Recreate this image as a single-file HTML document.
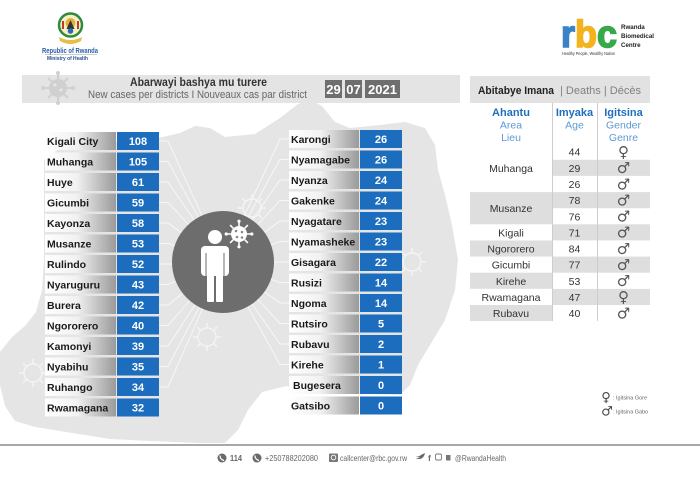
<!DOCTYPE html>
<html><head><meta charset="utf-8">
<style>
html,body{margin:0;padding:0;background:#fff;}
svg{display:block;}
text{font-family:"Liberation Sans","DejaVu Sans",sans-serif;}
text.sym{font-family:"DejaVu Sans",sans-serif;}
.nm{font-size:10.5px;font-weight:bold;fill:#1a1a1a;}
.nb{font-size:11px;font-weight:bold;fill:#ffffff;text-anchor:middle;}
.tb{font-size:10.5px;fill:#333;text-anchor:middle;}
text.gs{font-size:15px;fill:#555;text-anchor:middle;}
</style></head><body>
<svg width="700" height="478" viewBox="0 0 700 478" xmlns="http://www.w3.org/2000/svg">
<defs>
<linearGradient id="gl" x1="0" y1="0" x2="1" y2="0">
<stop offset="0" stop-color="#ffffff"/>
<stop offset="0.45" stop-color="#f1f1f1"/>
<stop offset="1" stop-color="#9a9a9a"/>
</linearGradient>
<g id="vir" fill="none" stroke="#f4f4f4" stroke-width="1.4">
<circle r="9"/>
<path d="M0-9V-14M0 9V14M-9 0H-14M9 0H14M6.4-6.4L10-10M-6.4 6.4L-10 10M6.4 6.4L10 10M-6.4-6.4L-10-10"/>
</g>
</defs>

<!-- map silhouette -->
<path d="M150,140 L180,133 L195,126 L210,128 L225,137 L255,134 L280,118 L298,104 L310,100 L322,106 L335,122 L350,128 L380,125 L405,122 L425,128 L435,145 L438,170 L445,195 L452,225 L458,260 L455,290 L445,320 L430,345 L418,365 L410,385 L400,395 L300,392 L287,386 L262,392 L248,410 L238,430 L225,443 L200,443 L150,441 L110,439 L85,435 L60,431 L35,427 L15,421 L5,406 L0,385 L0,352 L12,337 L25,326 L36,312 L42,290 L44,260 L44,160 L60,148 L100,142 Z" fill="#e5e5e5"/>

<!-- decorative viruses -->
<use href="#vir" x="252" y="208"/>
<use href="#vir" x="207" y="337"/>
<use href="#vir" x="33" y="373"/>
<use href="#vir" x="412" y="262"/>

<!-- radiating lines -->
<g fill="none" stroke="#f8f8f8" stroke-width="0.9">
<path d="M159,141H168L201.9,215.6"/>
<path d="M159,161.5H168L198.5,217.3"/>
<path d="M159,182H168L194.1,220"/>
<path d="M159,202.5H168L188.4,224.5"/>
<path d="M159,223H168L181.4,232.5"/>
<path d="M159,243.5H168L174.7,245.7"/>
<path d="M159,264H172"/>
<path d="M159,284.5H168L175.8,281.3"/>
<path d="M159,305H168L182.8,293.4"/>
<path d="M159,325.5H168L189.6,300.5"/>
<path d="M159,346H168L195.1,304.7"/>
<path d="M159,366.5H168L199.3,307.1"/>
<path d="M159,387H168L202.5,308.7"/>
<path d="M289,139H280L244.4,215.7"/>
<path d="M289,159.5H280L247.8,217.4"/>
<path d="M289,180H280L252.1,220.1"/>
<path d="M289,200.5H280L257.7,224.6"/>
<path d="M289,221H280L264.4,232.2"/>
<path d="M289,241.5H280L271,244.7"/>
<path d="M289,262H274"/>
<path d="M289,282.5H280L271,279.3"/>
<path d="M289,303H280L264.4,291.8"/>
<path d="M289,323.5H280L257.7,299.4"/>
<path d="M289,344H280L252.1,303.9"/>
<path d="M289,364.5H280L247.8,306.6"/>
</g>

<!-- left logo -->
<circle cx="70.5" cy="25" r="11.5" fill="#f6efc8" stroke="#2f8a3c" stroke-width="2.5"/>
<circle cx="70.5" cy="23" r="5" fill="#e2b23a"/>
<path d="M66.5,29 L70.5,20 L74.5,29 Z" fill="#333"/>
<circle cx="70.5" cy="31" r="2.8" fill="#2a6bb5"/>
<rect x="62" y="21" width="2" height="8" fill="#c0392b"/>
<rect x="77" y="21" width="2" height="8" fill="#c0392b"/>
<path d="M59,37 Q70.5,43 82,37 L81,41 Q70.5,47 60,41 Z" fill="#e3bf4a"/>
<text x="42" y="53" font-size="7.5" font-weight="bold" fill="#2a5caa" textLength="56" lengthAdjust="spacingAndGlyphs">Republic of Rwanda</text>
<line x1="45" y1="54.7" x2="97" y2="54.7" stroke="#999" stroke-width="0.5"/>
<text x="47" y="59.8" font-size="5.5" font-weight="bold" fill="#2a4f8f" textLength="41" lengthAdjust="spacingAndGlyphs">Ministry of Health</text>

<!-- rbc logo -->
<text x="561" y="47" font-size="38" font-weight="bold" stroke-width="1.6" textLength="56" lengthAdjust="spacingAndGlyphs"><tspan fill="#3a83c5" stroke="#3a83c5">r</tspan><tspan fill="#f4b31c" stroke="#f4b31c">b</tspan><tspan fill="#36a94b" stroke="#36a94b">c</tspan></text>
<text x="621" y="29" font-size="6.2" font-weight="bold" fill="#222">Rwanda</text>
<text x="621" y="38" font-size="6.2" font-weight="bold" fill="#222">Biomedical</text>
<text x="621" y="47" font-size="6.2" font-weight="bold" fill="#222">Centre</text>
<text x="562" y="55" font-size="4.5" fill="#333" textLength="53" lengthAdjust="spacingAndGlyphs">Healthy People, Wealthy Nation</text>

<!-- left header bar -->
<rect x="22" y="75" width="438" height="28" fill="#e4e4e4"/>
<g transform="translate(58,88)" fill="#d0d0d0" stroke="#d0d0d0">
<circle r="9" stroke="none"/>
<path d="M0-9V-14M0 9V14M-9 0H-14M9 0H14M6.4-6.4L10-10M-6.4 6.4L-10 10M6.4 6.4L10 10M-6.4-6.4L-10-10" stroke-width="2"/>
<circle cx="0" cy="-15" r="2" stroke="none"/><circle cx="0" cy="15" r="2" stroke="none"/>
<circle cx="-15" cy="0" r="2" stroke="none"/><circle cx="15" cy="0" r="2" stroke="none"/>
<circle cx="-3" cy="-3" r="1.5" fill="#e8e8e8" stroke="none"/><circle cx="3" cy="2" r="1.5" fill="#e8e8e8" stroke="none"/>
</g>
<text x="130" y="86" font-size="11.5" font-weight="bold" fill="#333" textLength="137" lengthAdjust="spacingAndGlyphs">Abarwayi bashya mu turere</text>
<text x="88" y="98" font-size="11" fill="#666" textLength="219" lengthAdjust="spacingAndGlyphs">New cases per districts I Nouveaux cas par district</text>
<rect x="325" y="80" width="17" height="18" fill="#6e6e6e"/>
<rect x="345" y="80" width="17" height="18" fill="#6e6e6e"/>
<rect x="365" y="80" width="35" height="18" fill="#6e6e6e"/>
<text x="333.5" y="94" font-size="13" font-weight="bold" fill="#fff" text-anchor="middle">29</text>
<text x="353.5" y="94" font-size="13" font-weight="bold" fill="#fff" text-anchor="middle">07</text>
<text x="382.5" y="94" font-size="13" font-weight="bold" fill="#fff" text-anchor="middle">2021</text>

<!-- center circle -->
<circle cx="223" cy="262" r="51" fill="#6d6d6d"/>
<circle cx="215" cy="237" r="7" fill="#fff"/>
<rect x="201" y="246" width="28" height="30" rx="4" fill="#fff"/>
<rect x="207" y="272" width="7" height="30" rx="1" fill="#fff"/>
<rect x="216" y="272" width="7" height="30" rx="1" fill="#fff"/>
<line x1="206" y1="253" x2="206" y2="276" stroke="#6d6d6d" stroke-width="1"/>
<line x1="224" y1="253" x2="224" y2="276" stroke="#6d6d6d" stroke-width="1"/>
<g transform="translate(239,234)">
<path d="M0-8V-12.5M0 8V12.5M-8 0H-12.5M8 0H12.5M5.7-5.7L8.9-8.9M-5.7 5.7L-8.9 8.9M5.7 5.7L8.9 8.9M-5.7-5.7L-8.9-8.9" stroke="#fff" stroke-width="1.6"/>
<circle r="8" fill="#fff"/>
<circle cx="-3" cy="-3" r="1.3" fill="#8a8a8a"/><circle cx="3" cy="-2" r="1.3" fill="#8a8a8a"/>
<circle cx="-2" cy="3" r="1.3" fill="#8a8a8a"/><circle cx="3" cy="3.5" r="1.3" fill="#8a8a8a"/>
<circle cx="0" cy="12.8" r="1.6" fill="#fff"/><circle cx="0" cy="-12.8" r="1.6" fill="#fff"/>
<circle cx="12.8" cy="0" r="1.6" fill="#fff"/><circle cx="-12.8" cy="0" r="1.6" fill="#fff"/>
</g>

<!-- left list -->
<g>
<rect x="45" y="132" width="71" height="18" fill="url(#gl)"/><rect x="117" y="132" width="42" height="18" fill="#1c6dbe"/><text class="nm" x="47" y="145">Kigali City</text><text class="nb" x="138" y="145">108</text>
<rect x="45" y="152.5" width="71" height="18" fill="url(#gl)"/><rect x="117" y="152.5" width="42" height="18" fill="#1c6dbe"/><text class="nm" x="47" y="165.5">Muhanga</text><text class="nb" x="138" y="165.5">105</text>
<rect x="45" y="173" width="71" height="18" fill="url(#gl)"/><rect x="117" y="173" width="42" height="18" fill="#1c6dbe"/><text class="nm" x="47" y="186">Huye</text><text class="nb" x="138" y="186">61</text>
<rect x="45" y="193.5" width="71" height="18" fill="url(#gl)"/><rect x="117" y="193.5" width="42" height="18" fill="#1c6dbe"/><text class="nm" x="47" y="206.5">Gicumbi</text><text class="nb" x="138" y="206.5">59</text>
<rect x="45" y="214" width="71" height="18" fill="url(#gl)"/><rect x="117" y="214" width="42" height="18" fill="#1c6dbe"/><text class="nm" x="47" y="227">Kayonza</text><text class="nb" x="138" y="227">58</text>
<rect x="45" y="234.5" width="71" height="18" fill="url(#gl)"/><rect x="117" y="234.5" width="42" height="18" fill="#1c6dbe"/><text class="nm" x="47" y="247.5">Musanze</text><text class="nb" x="138" y="247.5">53</text>
<rect x="45" y="255" width="71" height="18" fill="url(#gl)"/><rect x="117" y="255" width="42" height="18" fill="#1c6dbe"/><text class="nm" x="47" y="268">Rulindo</text><text class="nb" x="138" y="268">52</text>
<rect x="45" y="275.5" width="71" height="18" fill="url(#gl)"/><rect x="117" y="275.5" width="42" height="18" fill="#1c6dbe"/><text class="nm" x="47" y="288.5">Nyaruguru</text><text class="nb" x="138" y="288.5">43</text>
<rect x="45" y="296" width="71" height="18" fill="url(#gl)"/><rect x="117" y="296" width="42" height="18" fill="#1c6dbe"/><text class="nm" x="47" y="309">Burera</text><text class="nb" x="138" y="309">42</text>
<rect x="45" y="316.5" width="71" height="18" fill="url(#gl)"/><rect x="117" y="316.5" width="42" height="18" fill="#1c6dbe"/><text class="nm" x="47" y="329.5">Ngororero</text><text class="nb" x="138" y="329.5">40</text>
<rect x="45" y="337" width="71" height="18" fill="url(#gl)"/><rect x="117" y="337" width="42" height="18" fill="#1c6dbe"/><text class="nm" x="47" y="350">Kamonyi</text><text class="nb" x="138" y="350">39</text>
<rect x="45" y="357.5" width="71" height="18" fill="url(#gl)"/><rect x="117" y="357.5" width="42" height="18" fill="#1c6dbe"/><text class="nm" x="47" y="370.5">Nyabihu</text><text class="nb" x="138" y="370.5">35</text>
<rect x="45" y="378" width="71" height="18" fill="url(#gl)"/><rect x="117" y="378" width="42" height="18" fill="#1c6dbe"/><text class="nm" x="47" y="391">Ruhango</text><text class="nb" x="138" y="391">34</text>
<rect x="45" y="398.5" width="71" height="18" fill="url(#gl)"/><rect x="117" y="398.5" width="42" height="18" fill="#1c6dbe"/><text class="nm" x="47" y="411.5">Rwamagana</text><text class="nb" x="138" y="411.5">32</text>
</g>

<!-- middle list -->
<g>
<rect x="289" y="130" width="70" height="18" fill="url(#gl)"/><rect x="360" y="130" width="42" height="18" fill="#1c6dbe"/><text class="nm" x="291" y="143">Karongi</text><text class="nb" x="381" y="143">26</text>
<rect x="289" y="150.5" width="70" height="18" fill="url(#gl)"/><rect x="360" y="150.5" width="42" height="18" fill="#1c6dbe"/><text class="nm" x="291" y="163.5">Nyamagabe</text><text class="nb" x="381" y="163.5">26</text>
<rect x="289" y="171" width="70" height="18" fill="url(#gl)"/><rect x="360" y="171" width="42" height="18" fill="#1c6dbe"/><text class="nm" x="291" y="184">Nyanza</text><text class="nb" x="381" y="184">24</text>
<rect x="289" y="191.5" width="70" height="18" fill="url(#gl)"/><rect x="360" y="191.5" width="42" height="18" fill="#1c6dbe"/><text class="nm" x="291" y="204.5">Gakenke</text><text class="nb" x="381" y="204.5">24</text>
<rect x="289" y="212" width="70" height="18" fill="url(#gl)"/><rect x="360" y="212" width="42" height="18" fill="#1c6dbe"/><text class="nm" x="291" y="225">Nyagatare</text><text class="nb" x="381" y="225">23</text>
<rect x="289" y="232.5" width="70" height="18" fill="url(#gl)"/><rect x="360" y="232.5" width="42" height="18" fill="#1c6dbe"/><text class="nm" x="291" y="245.5">Nyamasheke</text><text class="nb" x="381" y="245.5">23</text>
<rect x="289" y="253" width="70" height="18" fill="url(#gl)"/><rect x="360" y="253" width="42" height="18" fill="#1c6dbe"/><text class="nm" x="291" y="266">Gisagara</text><text class="nb" x="381" y="266">22</text>
<rect x="289" y="273.5" width="70" height="18" fill="url(#gl)"/><rect x="360" y="273.5" width="42" height="18" fill="#1c6dbe"/><text class="nm" x="291" y="286.5">Rusizi</text><text class="nb" x="381" y="286.5">14</text>
<rect x="289" y="294" width="70" height="18" fill="url(#gl)"/><rect x="360" y="294" width="42" height="18" fill="#1c6dbe"/><text class="nm" x="291" y="307">Ngoma</text><text class="nb" x="381" y="307">14</text>
<rect x="289" y="314.5" width="70" height="18" fill="url(#gl)"/><rect x="360" y="314.5" width="42" height="18" fill="#1c6dbe"/><text class="nm" x="291" y="327.5">Rutsiro</text><text class="nb" x="381" y="327.5">5</text>
<rect x="289" y="335" width="70" height="18" fill="url(#gl)"/><rect x="360" y="335" width="42" height="18" fill="#1c6dbe"/><text class="nm" x="291" y="348">Rubavu</text><text class="nb" x="381" y="348">2</text>
<rect x="289" y="355.5" width="70" height="18" fill="url(#gl)"/><rect x="360" y="355.5" width="42" height="18" fill="#1c6dbe"/><text class="nm" x="291" y="368.5">Kirehe</text><text class="nb" x="381" y="368.5">1</text>
<rect x="289" y="376" width="70" height="18" fill="url(#gl)"/><rect x="360" y="376" width="42" height="18" fill="#1c6dbe"/><text class="nm" x="293" y="389">Bugesera</text><text class="nb" x="381" y="389">0</text>
<rect x="289" y="396.5" width="70" height="18" fill="url(#gl)"/><rect x="360" y="396.5" width="42" height="18" fill="#1c6dbe"/><text class="nm" x="291" y="409.5">Gatsibo</text><text class="nb" x="381" y="409.5">0</text>
</g>

<!-- right panel -->
<rect x="470" y="76" width="180" height="27" fill="#e2e2e2"/>
<text x="478" y="94" font-size="11" font-weight="bold" fill="#222" textLength="76" lengthAdjust="spacingAndGlyphs">Abitabye Imana</text>
<text x="560" y="94" font-size="11" fill="#808080" textLength="81" lengthAdjust="spacingAndGlyphs">|  Deaths  |  Décès</text>

<text x="511" y="116" font-size="11" font-weight="bold" fill="#1f6fbf" text-anchor="middle">Ahantu</text>
<text x="511" y="128.5" font-size="10.5" fill="#5b9ad4" text-anchor="middle">Area</text>
<text x="511" y="141" font-size="10.5" fill="#5b9ad4" text-anchor="middle">Lieu</text>
<text x="574.5" y="116" font-size="11" font-weight="bold" fill="#1f6fbf" text-anchor="middle">Imyaka</text>
<text x="574.5" y="128.5" font-size="10.5" fill="#5b9ad4" text-anchor="middle">Age</text>
<text x="623.5" y="116" font-size="11" font-weight="bold" fill="#1f6fbf" text-anchor="middle">Igitsina</text>
<text x="623.5" y="128.5" font-size="10.5" fill="#5b9ad4" text-anchor="middle">Gender</text>
<text x="623.5" y="141" font-size="10.5" fill="#5b9ad4" text-anchor="middle">Genre</text>

<g fill="#dedede">
<rect x="552" y="159.8" width="98" height="16.1"/>
<rect x="552" y="192.1" width="98" height="16.1"/>
<rect x="552" y="224.3" width="98" height="16.1"/>
<rect x="552" y="256.6" width="98" height="16.1"/>
<rect x="552" y="288.9" width="98" height="16.1"/>
<rect x="470" y="192.1" width="82" height="32.2"/>
<rect x="470" y="240.5" width="82" height="16.1"/>
<rect x="470" y="272.7" width="82" height="16.1"/>
<rect x="470" y="305" width="82" height="16.1"/>
</g>
<line x1="552.5" y1="103" x2="552.5" y2="321" stroke="#cdcdcd" stroke-width="1"/>
<line x1="597.5" y1="103" x2="597.5" y2="321" stroke="#cdcdcd" stroke-width="1"/>

<text class="tb" x="511" y="171.9">Muhanga</text>
<text class="tb" x="511" y="212.2">Musanze</text>
<text class="tb" x="511" y="236.4">Kigali</text>
<text class="tb" x="511" y="252.5">Ngororero</text>
<text class="tb" x="511" y="268.7">Gicumbi</text>
<text class="tb" x="511" y="284.8">Kirehe</text>
<text class="tb" x="511" y="300.9">Rwamagana</text>
<text class="tb" x="511" y="317.1">Rubavu</text>

<text class="tb" x="574.5" y="155.7">44</text>
<text class="tb" x="574.5" y="171.9">29</text>
<text class="tb" x="574.5" y="188">26</text>
<text class="tb" x="574.5" y="204.2">78</text>
<text class="tb" x="574.5" y="220.3">76</text>
<text class="tb" x="574.5" y="236.4">71</text>
<text class="tb" x="574.5" y="252.5">84</text>
<text class="tb" x="574.5" y="268.7">77</text>
<text class="tb" x="574.5" y="284.8">53</text>
<text class="tb" x="574.5" y="300.9">47</text>
<text class="tb" x="574.5" y="317.1">40</text>

<text class="sym gs" x="623.5" y="157">♀</text>
<text class="sym gs" x="623.5" y="173.2">♂</text>
<text class="sym gs" x="623.5" y="189.3">♂</text>
<text class="sym gs" x="623.5" y="205.5">♂</text>
<text class="sym gs" x="623.5" y="221.6">♂</text>
<text class="sym gs" x="623.5" y="237.7">♂</text>
<text class="sym gs" x="623.5" y="253.8">♂</text>
<text class="sym gs" x="623.5" y="270">♂</text>
<text class="sym gs" x="623.5" y="286.1">♂</text>
<text class="sym gs" x="623.5" y="302.2">♀</text>
<text class="sym gs" x="623.5" y="318.4">♂</text>

<!-- legend -->
<text class="sym" x="606" y="401.5" font-size="13" fill="#444" text-anchor="middle">♀</text>
<text class="sym" x="607" y="415.5" font-size="13" fill="#444" text-anchor="middle">♂</text>
<text x="613" y="399.5" font-size="5.5" fill="#666" textLength="34" lengthAdjust="spacingAndGlyphs">: Igitsina Gore</text>
<text x="613" y="413.5" font-size="5.5" fill="#666" textLength="35" lengthAdjust="spacingAndGlyphs">: Igitsina Gabo</text>

<!-- footer -->
<line x1="0" y1="445" x2="700" y2="445" stroke="#8c8c8c" stroke-width="1.5"/>
<circle cx="222" cy="458" r="4.5" fill="#6a6a6a"/>
<path d="M220,455.5 q0,4 4,5" stroke="#fff" stroke-width="1.2" fill="none"/>
<text x="230" y="461" font-size="8.5" font-weight="bold" fill="#666" textLength="12" lengthAdjust="spacingAndGlyphs">114</text>
<circle cx="257" cy="458" r="4.5" fill="#6a6a6a"/>
<path d="M255,455.5 q0,4 4,5" stroke="#fff" stroke-width="1.2" fill="none"/>
<text x="265" y="461" font-size="8.5" fill="#666" textLength="53" lengthAdjust="spacingAndGlyphs">+250788202080</text>
<rect x="329" y="453.5" width="9" height="8.5" rx="1" fill="#777"/>
<circle cx="333.5" cy="457.5" r="2.3" fill="none" stroke="#fff" stroke-width="0.9"/>
<text x="340" y="461" font-size="8.5" fill="#666" textLength="67" lengthAdjust="spacingAndGlyphs">callcenter@rbc.gov.rw</text>
<path d="M416,456 q3,1 5,-1 q2,-1 4,-2 q-1,5 -5,6 q-3,0 -4,-1 q3,0 4,-1 q-3,0 -4,-1z" fill="#666"/>
<text x="428" y="461" font-size="8.5" font-weight="bold" fill="#666">f</text>
<rect x="435.5" y="454" width="6" height="6" rx="1.5" fill="none" stroke="#777" stroke-width="0.9"/>
<rect x="446" y="455" width="4.5" height="5.5" fill="#777"/>
<text x="455" y="461" font-size="8.5" fill="#666" textLength="51" lengthAdjust="spacingAndGlyphs">@RwandaHealth</text>
</svg>
</body></html>
